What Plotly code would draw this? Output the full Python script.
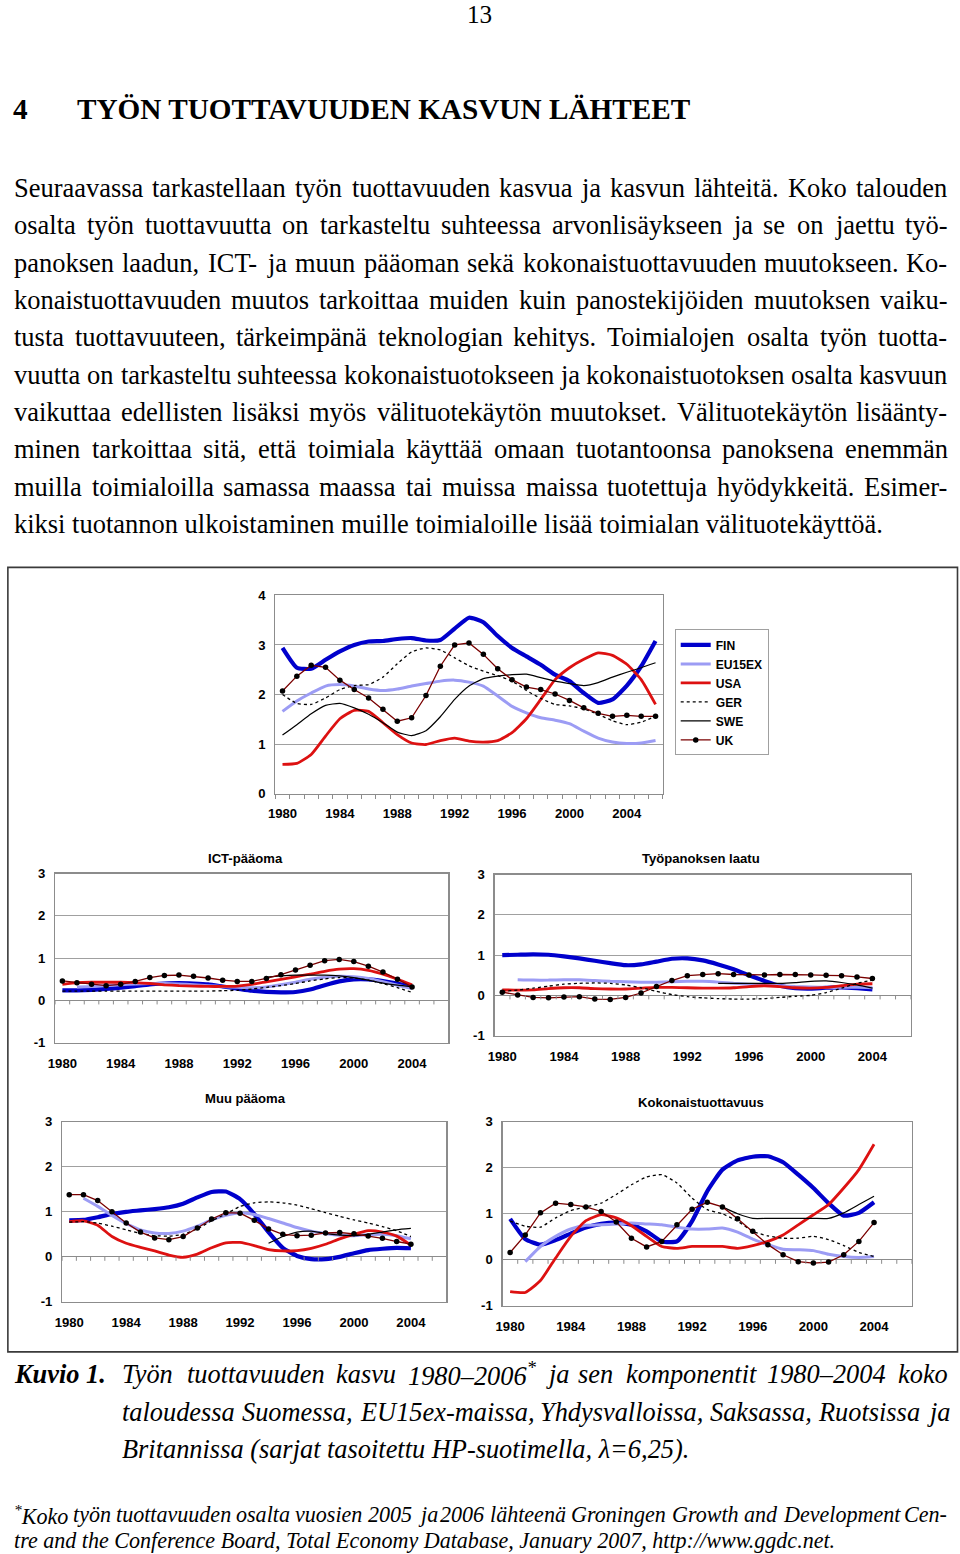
import re
import plotly.graph_objects as go

# The page is photographed with a fixed 8px outer offset and a slight
# down-scaling (968x1570 -> 960x1554).  Reference page coordinates are
# converted into figure coordinates so that the final picture lines up.
KX, KY = 960 / 968, 1554 / 1570
OFF = 8
FW, FH = 960, 1562
TS = 1 / KX  # text size compensation


def fx(x):
    return (x / KX - OFF) / FW


def fy(y):
    return 1 - (y / KY - OFF) / FH


# ---------------- data ----------------
years_main = list(range(1980, 2007))
years_comp = list(range(1980, 2005))
countries = ["FIN", "EU15EX", "USA", "GER", "SWE", "UK"]
tick_years = [1980, 1984, 1988, 1992, 1996, 2000, 2004]

# Labour productivity growth 1980-2006
lp_fin = [2.94, 2.54, 2.52, 2.70, 2.87, 3.00, 3.07, 3.08, 3.12, 3.14, 3.09, 3.10, 3.33, 3.55, 3.46, 3.18, 2.94, 2.77, 2.60, 2.40, 2.27, 2.03, 1.83, 1.90, 2.18, 2.57, 3.08]
lp_eu = [1.66, 1.87, 2.03, 2.17, 2.20, 2.17, 2.11, 2.08, 2.11, 2.17, 2.22, 2.27, 2.29, 2.25, 2.17, 1.97, 1.76, 1.63, 1.53, 1.48, 1.41, 1.26, 1.12, 1.04, 1.01, 1.02, 1.07]
lp_usa = [0.59, 0.61, 0.79, 1.16, 1.51, 1.68, 1.66, 1.43, 1.19, 1.02, 0.99, 1.07, 1.12, 1.06, 1.04, 1.07, 1.23, 1.51, 1.90, 2.30, 2.54, 2.71, 2.84, 2.79, 2.61, 2.30, 1.80]
lp_ger = [2.00, 1.82, 1.80, 1.93, 2.10, 2.18, 2.20, 2.35, 2.62, 2.86, 2.94, 2.90, 2.74, 2.58, 2.47, 2.38, 2.27, 2.08, 1.92, 1.80, 1.77, 1.71, 1.60, 1.47, 1.39, 1.44, 1.56]
lp_swe = [1.18, 1.39, 1.61, 1.78, 1.82, 1.73, 1.60, 1.43, 1.24, 1.17, 1.27, 1.55, 1.90, 2.17, 2.32, 2.37, 2.40, 2.41, 2.34, 2.27, 2.22, 2.18, 2.24, 2.35, 2.45, 2.54, 2.64]
lp_uk = [2.07, 2.37, 2.59, 2.55, 2.29, 2.10, 1.93, 1.70, 1.46, 1.53, 1.98, 2.57, 3.00, 3.04, 2.81, 2.52, 2.30, 2.15, 2.10, 2.01, 1.88, 1.73, 1.62, 1.56, 1.58, 1.56, 1.56]

# ICT capital
ict_fin = [0.24, 0.24, 0.25, 0.27, 0.30, 0.34, 0.38, 0.40, 0.41, 0.40, 0.38, 0.33, 0.28, 0.23, 0.20, 0.19, 0.20, 0.26, 0.36, 0.45, 0.50, 0.50, 0.46, 0.40, 0.32]
ict_eu = [None, 0.32, 0.33, 0.35, 0.37, 0.39, 0.40, 0.40, 0.39, 0.37, 0.35, 0.33, 0.31, 0.30, 0.32, 0.37, 0.43, 0.50, 0.55, 0.57, 0.56, 0.52, 0.44, 0.36, 0.28]
ict_usa = [0.38, 0.42, 0.43, 0.43, 0.43, 0.42, 0.40, 0.37, 0.35, 0.34, 0.33, 0.33, 0.34, 0.38, 0.44, 0.50, 0.56, 0.62, 0.69, 0.74, 0.75, 0.71, 0.62, 0.50, 0.37]
ict_ger = [0.22, 0.22, 0.22, 0.22, 0.22, 0.22, 0.22, 0.22, 0.22, 0.22, 0.22, 0.23, 0.24, 0.27, 0.31, 0.35, 0.40, 0.46, 0.51, 0.54, 0.53, 0.48, 0.40, 0.30, 0.19]
ict_swe = [None, None, None, None, None, None, None, None, None, None, None, None, None, None, 0.55, 0.58, 0.60, 0.60, 0.60, 0.58, 0.54, 0.48, 0.41, 0.36, 0.32]
ict_uk = [0.46, 0.42, 0.38, 0.35, 0.38, 0.45, 0.54, 0.59, 0.60, 0.57, 0.53, 0.48, 0.45, 0.45, 0.52, 0.61, 0.72, 0.83, 0.94, 0.97, 0.92, 0.81, 0.67, 0.50, 0.32]

# Labour quality
lq_fin = [1.00, 1.01, 1.02, 1.01, 0.97, 0.92, 0.86, 0.80, 0.75, 0.77, 0.84, 0.91, 0.92, 0.87, 0.77, 0.65, 0.50, 0.36, 0.24, 0.18, 0.17, 0.19, 0.20, 0.18, 0.15]
lq_eu = [None, 0.39, 0.38, 0.38, 0.39, 0.39, 0.37, 0.35, 0.34, 0.33, 0.33, 0.34, 0.35, 0.35, 0.33, 0.30, 0.28, 0.26, 0.24, 0.22, 0.21, 0.20, 0.20, 0.20, 0.19]
lq_usa = [0.14, 0.13, 0.14, 0.17, 0.19, 0.19, 0.17, 0.16, 0.16, 0.18, 0.20, 0.20, 0.19, 0.18, 0.18, 0.19, 0.22, 0.24, 0.22, 0.19, 0.18, 0.20, 0.24, 0.28, 0.29]
lq_ger = [0.10, 0.13, 0.18, 0.23, 0.28, 0.30, 0.31, 0.30, 0.26, 0.19, 0.10, 0.02, -0.03, -0.06, -0.08, -0.09, -0.09, -0.08, -0.05, -0.02, 0.00, 0.07, 0.18, 0.30, 0.38]
lq_swe = [None, None, None, None, None, None, None, None, None, None, None, None, None, None, 0.30, 0.30, 0.30, 0.30, 0.30, 0.32, 0.35, 0.36, 0.32, 0.26, 0.18]
lq_uk = [0.08, 0.01, -0.05, -0.06, -0.04, -0.03, -0.09, -0.10, -0.05, 0.06, 0.22, 0.37, 0.49, 0.52, 0.54, 0.52, 0.51, 0.51, 0.52, 0.52, 0.51, 0.50, 0.49, 0.46, 0.42]

# Other capital
oc_fin = [0.81, 0.82, 0.88, 0.95, 1.00, 1.03, 1.06, 1.10, 1.18, 1.32, 1.44, 1.45, 1.28, 0.95, 0.55, 0.20, 0.02, -0.05, -0.05, 0.00, 0.08, 0.15, 0.18, 0.20, 0.19]
oc_eu = [None, 1.30, 1.12, 0.92, 0.74, 0.60, 0.53, 0.52, 0.57, 0.68, 0.82, 0.92, 0.98, 0.94, 0.85, 0.75, 0.65, 0.57, 0.52, 0.48, 0.47, 0.49, 0.50, 0.47, 0.40]
oc_usa = [0.78, 0.80, 0.70, 0.45, 0.30, 0.21, 0.13, 0.04, -0.01, 0.06, 0.20, 0.31, 0.32, 0.25, 0.16, 0.13, 0.14, 0.19, 0.28, 0.40, 0.50, 0.58, 0.55, 0.46, 0.26]
oc_ger = [0.77, 0.78, 0.75, 0.68, 0.60, 0.52, 0.47, 0.46, 0.50, 0.62, 0.80, 0.95, 1.12, 1.20, 1.22, 1.20, 1.15, 1.07, 0.98, 0.90, 0.82, 0.75, 0.67, 0.58, 0.45]
oc_swe = [None, None, None, None, None, None, None, None, None, None, None, None, None, None, 0.30, 0.45, 0.55, 0.57, 0.52, 0.48, 0.47, 0.50, 0.55, 0.60, 0.63]
oc_uk = [1.38, 1.38, 1.25, 1.00, 0.75, 0.55, 0.42, 0.38, 0.45, 0.64, 0.84, 0.98, 0.97, 0.81, 0.62, 0.50, 0.47, 0.48, 0.53, 0.54, 0.51, 0.46, 0.41, 0.34, 0.28]

# Total factor productivity
tfp_fin = [0.89, 0.45, 0.33, 0.43, 0.57, 0.70, 0.78, 0.81, 0.76, 0.62, 0.40, 0.40, 0.84, 1.49, 1.96, 2.16, 2.24, 2.25, 2.12, 1.85, 1.56, 1.23, 0.96, 1.02, 1.25]
tfp_eu = [None, -0.04, 0.29, 0.51, 0.67, 0.75, 0.76, 0.78, 0.80, 0.78, 0.76, 0.71, 0.67, 0.67, 0.69, 0.60, 0.45, 0.33, 0.23, 0.22, 0.20, 0.12, 0.07, 0.05, 0.07]
tfp_usa = [-0.69, -0.71, -0.45, 0.04, 0.51, 0.85, 0.98, 0.91, 0.74, 0.51, 0.29, 0.25, 0.29, 0.29, 0.29, 0.25, 0.31, 0.40, 0.54, 0.76, 0.98, 1.20, 1.56, 1.96, 2.51]
tfp_ger = [0.84, 0.73, 0.71, 0.91, 1.07, 1.15, 1.23, 1.42, 1.63, 1.80, 1.85, 1.67, 1.34, 1.09, 1.00, 0.84, 0.62, 0.52, 0.47, 0.47, 0.51, 0.44, 0.31, 0.16, 0.07]
tfp_swe = [None, None, None, None, None, None, None, None, None, None, None, None, None, None, 1.15, 1.00, 0.90, 0.90, 0.90, 0.90, 0.90, 0.90, 1.02, 1.20, 1.38]
tfp_uk = [0.16, 0.54, 1.02, 1.23, 1.20, 1.15, 1.05, 0.82, 0.47, 0.28, 0.40, 0.76, 1.10, 1.25, 1.15, 0.89, 0.62, 0.33, 0.11, -0.04, -0.07, -0.05, 0.11, 0.40, 0.81]

panel_titles = ["ICT-pääoma", "Työpanoksen laatu", "Muu pääoma", "Kokonaistuottavuus"]

page_number = "13"
heading_num = "4"
heading_text = "TYÖN TUOTTAVUUDEN KASVUN LÄHTEET"
paragraph_lines = [
    "Seuraavassa tarkastellaan työn tuottavuuden kasvua ja kasvun lähteitä. Koko talouden",
    "osalta työn tuottavuutta on tarkasteltu suhteessa arvonlisäykseen ja se on jaettu työ-",
    "panoksen laadun, ICT- ja muun pääoman sekä kokonaistuottavuuden muutokseen. Ko-",
    "konaistuottavuuden muutos tarkoittaa muiden kuin panostekijöiden muutoksen vaiku-",
    "tusta tuottavuuteen, tärkeimpänä teknologian kehitys. Toimialojen osalta työn tuotta-",
    "vuutta on tarkasteltu suhteessa kokonaistuotokseen ja kokonaistuotoksen osalta kasvuun",
    "vaikuttaa edellisten lisäksi myös välituotekäytön muutokset. Välituotekäytön lisäänty-",
    "minen tarkoittaa sitä, että toimiala käyttää omaan tuotantoonsa panoksena enemmän",
    "muilla toimialoilla samassa maassa tai muissa maissa tuotettuja hyödykkeitä. Esimer-",
    "kiksi tuotannon ulkoistaminen muille toimialoille lisää toimialan välituotekäyttöä.",
]
caption_label = "Kuvio 1."
caption_lines = [
    "Työn tuottavuuden kasvu 1980–2006<sup>*</sup> ja sen komponentit 1980–2004 koko",
    "taloudessa Suomessa, EU15ex-maissa, Yhdysvalloissa, Saksassa, Ruotsissa ja",
    "Britannissa (sarjat tasoitettu HP-suotimella, λ=6,25).",
]
footnote_lines = [
    "<sup>*</sup>Koko työn tuottavuuden osalta vuosien 2005 ja 2006 lähteenä Groningen Growth and Development Cen-",
    "tre and the Conference Board, Total Economy Database, January 2007, http://www.ggdc.net.",
]

# ---------------- styles ----------------
styles = {
    "FIN": dict(color="#0000CC", width=4.2, dash="solid", marker=False),
    "EU15EX": dict(color="#9C9CF4", width=3.0, dash="solid", marker=False),
    "USA": dict(color="#DD1111", width=2.8, dash="solid", marker=False),
    "GER": dict(color="#000000", width=1.3, dash="dot", marker=False),
    "SWE": dict(color="#000000", width=1.2, dash="solid", marker=False),
    "UK": dict(color="#7A0000", width=1.3, dash="solid", marker=True),
}

AXFONT = dict(family="Liberation Sans", size=13 * TS, color="black", weight="bold")
GRID = "#A0A0A0"
BORDER = "#8C8C8C"

fig = go.Figure()

# panel geometry in page pixels: left, right, top, bottom
panels = [
    dict(name="main", box=(276, 663, 596, 794), yr=(0, 4), x=years_main,
         series=[lp_fin, lp_eu, lp_usa, lp_ger, lp_swe, lp_uk], title=None),
    dict(name="ict", box=(56, 449, 874, 1043), yr=(-1, 3), x=years_comp,
         series=[ict_fin, ict_eu, ict_usa, ict_ger, ict_swe, ict_uk], title=(panel_titles[0], 246, 859)),
    dict(name="lq", box=(495, 911, 875, 1036), yr=(-1, 3), x=years_comp,
         series=[lq_fin, lq_eu, lq_usa, lq_ger, lq_swe, lq_uk], title=(panel_titles[1], 701, 859)),
    dict(name="oc", box=(63, 447, 1122, 1302), yr=(-1, 3), x=years_comp,
         series=[oc_fin, oc_eu, oc_usa, oc_ger, oc_swe, oc_uk], title=(panel_titles[2], 246, 1099)),
    dict(name="tfp", box=(503, 912, 1122, 1306), yr=(-1, 3), x=years_comp,
         series=[tfp_fin, tfp_eu, tfp_usa, tfp_ger, tfp_swe, tfp_uk], title=(panel_titles[3], 701, 1103)),
]

annotations = []
shapes = []
layout_axes = {}

for i, p in enumerate(panels):
    n = "" if i == 0 else str(i + 1)
    xa, ya = "x" + n, "y" + n
    l, r, t, b = p["box"]
    for c, ys in zip(countries, p["series"]):
        s = styles[c]
        fig.add_trace(go.Scatter(
            x=p["x"], y=ys, xaxis=xa, yaxis=ya, name=c,
            mode="lines+markers" if s["marker"] else "lines",
            line=dict(color=s["color"], width=s["width"], dash=s["dash"],
                      shape="linear" if s["marker"] else "spline", smoothing=0.5),
            marker=dict(color="black", size=5.5) if s["marker"] else None,
            showlegend=(i == 0), legendgroup=c, connectgaps=False, hoverinfo="skip",
        ))
    layout_axes["xaxis" + n] = dict(
        domain=[fx(l), fx(r)], anchor=ya, range=[1979.5, 2006.5],
        tickmode="array", tickvals=tick_years, ticktext=[str(v) for v in tick_years],
        ticks="", showgrid=False, zeroline=False, showline=True, mirror=True,
        linecolor=BORDER, linewidth=1.2, tickfont=AXFONT, ticklabelstandoff=8,
        fixedrange=True,
    )
    ymin, ymax = p["yr"]
    yvals = list(range(ymin, ymax + 1))
    layout_axes["yaxis" + n] = dict(
        domain=[fy(b), fy(t)], anchor=xa, range=[ymin, ymax],
        tickmode="array", tickvals=yvals, ticktext=[str(v) for v in yvals], ticks="",
        showgrid=True, gridcolor=GRID, gridwidth=1,
        zeroline=(ymin < 0), zerolinecolor=BORDER, zerolinewidth=1.2,
        showline=True, mirror=True, linecolor=BORDER, linewidth=1.2,
        tickfont=AXFONT, ticklabelstandoff=6, fixedrange=True,
    )
    if i == 0:
        layout_axes["xaxis"]["minor"] = dict(tickmode="linear", tick0=1979.5, dtick=1,
                                             ticks="outside", ticklen=4, tickcolor=BORDER)
    else:
        unit_px = (b - t) / (ymax - ymin)
        tl = 4.0 / unit_px
        path = " ".join(f"M{1979.5 + k},0 L{1979.5 + k},{-tl:.4f}" for k in range(28))
        shapes.append(dict(type="path", xref=xa, yref=ya, path=path,
                           line=dict(color=BORDER, width=1)))
        title, tx, ty = p["title"]
        annotations.append(dict(text=title, x=fx(tx), y=fy(ty), xref="paper", yref="paper",
                                xanchor="center", yanchor="middle", showarrow=False,
                                font=dict(family="Liberation Sans", size=13 * TS, color="black", weight="bold")))

# outer frame (left edge kept just inside the drawable area)
shapes.append(dict(type="rect", xref="paper", yref="paper", x0=fx(8.8), x1=fx(957.5),
                   y0=fy(1352), y1=fy(568), line=dict(color="#3A3A3A", width=1.6)))

# ---------------- page text ----------------
ROMAN = {" ": 250, "(": 333, ")": 333, "*": 300, ",": 250, "-": 333, ".": 250, "/": 278, ":": 278,
         "=": 564, "–": 500, "λ": 549, "ä": 444, "ö": 500, "Ä": 722, "Ö": 722}
ROMAN.update({d: 500 for d in "0123456789"})
ROMAN.update(dict(zip("ABCDEFGHIJKLMNOPQRSTUVWXYZ",
                      [722, 667, 667, 722, 611, 556, 722, 722, 333, 389, 722, 611, 889, 722, 722, 556, 722, 667, 556, 611, 722, 722, 944, 722, 722, 611])))
ROMAN.update(dict(zip("abcdefghijklmnopqrstuvwxyz",
                      [444, 500, 444, 500, 444, 333, 500, 500, 278, 278, 500, 278, 778, 500, 500, 500, 500, 333, 389, 278, 500, 500, 722, 500, 500, 444])))
ITALIC = {" ": 250, "(": 333, ")": 333, "*": 300, ",": 250, "-": 333, ".": 250, "/": 278, ":": 333,
          "=": 675, "–": 500, "λ": 549, "ä": 500, "ö": 500, "Ä": 611, "Ö": 722}
ITALIC.update({d: 500 for d in "0123456789"})
ITALIC.update(dict(zip("ABCDEFGHIJKLMNOPQRSTUVWXYZ",
                       [611, 611, 667, 722, 611, 611, 722, 722, 333, 444, 667, 556, 833, 667, 722, 611, 722, 611, 500, 556, 722, 611, 833, 611, 556, 556])))
ITALIC.update(dict(zip("abcdefghijklmnopqrstuvwxyz",
                       [500, 500, 444, 500, 444, 278, 500, 500, 278, 278, 444, 278, 722, 500, 500, 500, 500, 389, 389, 278, 500, 444, 667, 444, 444, 389])))


def measure(s, table):
    s = re.sub(r"</?sup>", "", s)
    return sum(table.get(ch, 500) for ch in s) / 1000.0


SERIF = "Liberation Serif"


def add_text(text, x, y, size, style="normal", weight="normal", anchor="left"):
    annotations.append(dict(text=text, x=fx(x), y=fy(y), xref="paper", yref="paper",
                            xanchor=anchor, yanchor="middle", showarrow=False, borderpad=0,
                            font=dict(family=SERIF, size=size * TS, color="black", style=style, weight=weight)))


def add_line(text, x0, x1, y, size, table, style="normal", justify=True):
    if not justify:
        add_text(text, x0, y, size, style)
        return
    words = text.split(" ")
    widths = [measure(w, table) * size for w in words]
    gap = (x1 - x0 - sum(widths)) / (len(words) - 1)
    x = x0
    for w, wd in zip(words, widths):
        add_text(w, x, y, size, style)
        x += wd + gap


# page number and heading
add_text(page_number, 480, 15, 25, anchor="center")
add_text(heading_num, 13, 110, 29, weight="bold")
add_text(heading_text, 77, 110, 29, weight="bold")

# paragraph
para_size = 862 / measure(paragraph_lines[-1], ROMAN)
para_y = [189, 226, 264, 301, 338, 376, 413, 450, 488, 525]
for k, (line, y) in enumerate(zip(paragraph_lines, para_y)):
    add_line(line, 14, 946, y, para_size, ROMAN, justify=(k < len(paragraph_lines) - 1))

# caption
cap_size = 566 / measure(caption_lines[-1], ITALIC)
cap_y = [1375, 1413, 1450]
add_text(caption_label, 14, cap_y[0], cap_size, style="italic", weight="bold")
for k, (line, y) in enumerate(zip(caption_lines, cap_y)):
    add_line(line, 122, 946, y, cap_size, ITALIC, style="italic", justify=(k < 2))

# footnote
foot_size = 821 / measure(footnote_lines[-1], ITALIC)
foot_y = [1515, 1541]
for k, (line, y) in enumerate(zip(footnote_lines, foot_y)):
    add_line(line, 14, 946, y, foot_size, ITALIC, style="italic", justify=(k == 0))

fig.update_layout(
    width=FW, height=FH, autosize=False,
    margin=dict(l=0, r=0, t=0, b=0),
    paper_bgcolor="white", plot_bgcolor="white",
    showlegend=True,
    legend=dict(x=fx(675), y=fy(630), xanchor="left", yanchor="top",
                bgcolor="white", bordercolor="#A0A0A0", borderwidth=1,
                font=dict(family="Liberation Sans", size=12 * TS, color="black", weight="bold"),
                itemwidth=30, tracegroupgap=0, traceorder="normal"),
    annotations=annotations, shapes=shapes,
    **layout_axes,
)

fig.write_html(
    "out.html",
    config={"displayModeBar": False, "staticPlot": True},
    post_script="document.body.style.margin='0';document.body.style.padding='0';",
)
